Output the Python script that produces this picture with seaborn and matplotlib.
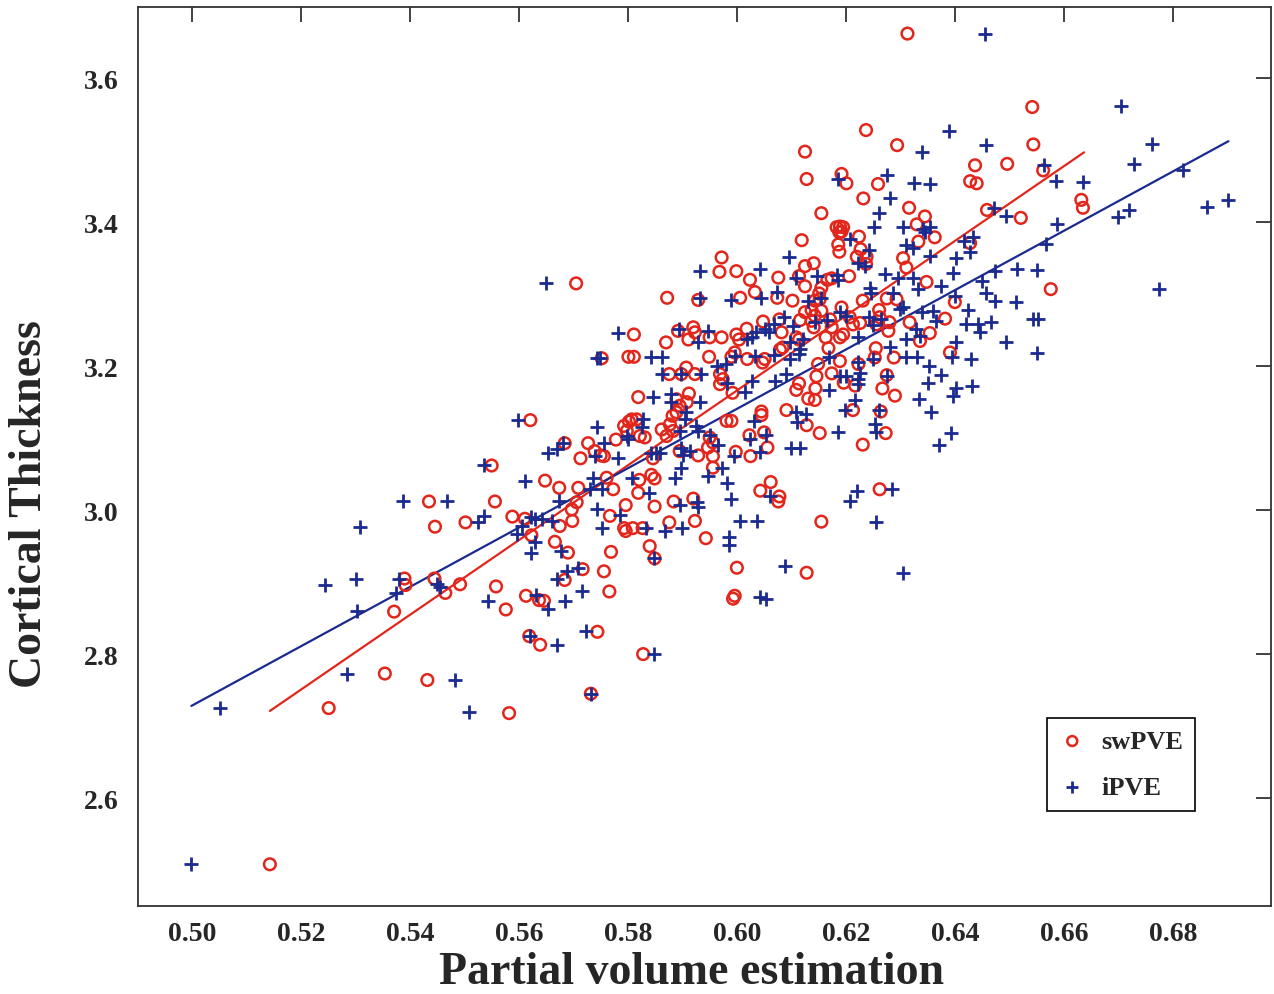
import matplotlib
matplotlib.use("Agg")
import matplotlib.pyplot as plt
import seaborn as sns

# swPVE points (partial volume estimation vs cortical thickness)
swpve_x = [
    0.5435, 0.5446, 0.5502, 0.5390, 0.5392, 0.5445, 0.5465, 0.5492, 0.5371, 0.5354,
    0.5432, 0.5251, 0.5143, 0.5619, 0.5639, 0.5744, 0.5828, 0.5732, 0.5582, 0.5621,
    0.5550, 0.5556, 0.5588, 0.5611, 0.5623, 0.5648, 0.5674, 0.5675, 0.5666, 0.5690,
    0.5697, 0.5698, 0.5706, 0.5709, 0.5684, 0.5727, 0.5713, 0.5739, 0.5750, 0.5756,
    0.5761, 0.5773, 0.5778, 0.5767, 0.5796, 0.5793, 0.5796, 0.5809, 0.5827, 0.5769,
    0.5717, 0.5684, 0.5756, 0.5766, 0.5558, 0.5613, 0.5637, 0.5646, 0.5576, 0.5819,
    0.5819, 0.5821, 0.5843, 0.5849, 0.5849, 0.5840, 0.5849, 0.5876, 0.5884, 0.5920,
    0.5923, 0.5943, 0.5846, 0.5822, 0.5807, 0.5802, 0.5816, 0.5793, 0.5798, 0.5831,
    0.5862, 0.5871, 0.5883, 0.5877, 0.5889, 0.5882, 0.5895, 0.5912, 0.5908, 0.5876,
    0.5898, 0.5923, 0.5889, 0.5969, 0.5974, 0.5969, 0.5992, 0.5981, 0.5990, 0.5950,
    0.5956, 0.5947, 0.5956, 0.5929, 0.5895, 0.5956, 0.5998, 0.5993, 0.5996, 0.6000,
    0.5705, 0.5972, 0.5968, 0.5999, 0.5872, 0.5929, 0.6006, 0.5811, 0.5870, 0.5892,
    0.5920, 0.5923, 0.5911, 0.5950, 0.5972, 0.5999, 0.6004, 0.5949, 0.5752, 0.5801,
    0.5811, 0.5907, 0.5990, 0.5996, 0.6237, 0.6294, 0.6125, 0.6128, 0.6192, 0.6201,
    0.6259, 0.6232, 0.6437, 0.6428, 0.6440, 0.6155, 0.6316, 0.6345, 0.6330, 0.6459,
    0.6183, 0.6189, 0.6195, 0.6192, 0.6188, 0.6119, 0.6224, 0.6363, 0.6428, 0.6186,
    0.6188, 0.6333, 0.6227, 0.6238, 0.6220, 0.6305, 0.6311, 0.6237, 0.6125, 0.6141,
    0.6076, 0.6024, 0.6114, 0.6125, 0.6166, 0.6174, 0.6206, 0.6155, 0.6151, 0.6033,
    0.6074, 0.6102, 0.6143, 0.6152, 0.6125, 0.6137, 0.6155, 0.6143, 0.6192, 0.6231,
    0.6261, 0.6262, 0.6275, 0.6293, 0.6348, 0.6400, 0.6382, 0.6354, 0.6317, 0.6280,
    0.6278, 0.6256, 0.6226, 0.6207, 0.6213, 0.6195, 0.6189, 0.6171, 0.6174, 0.6137,
    0.6141, 0.6116, 0.6082, 0.6078, 0.6048, 0.6018, 0.6163, 0.6168, 0.6109, 0.6114,
    0.6079, 0.6084, 0.6051, 0.6047, 0.6019, 0.6149, 0.6189, 0.6255, 0.6336, 0.6391,
    0.6288, 0.6253, 0.6223, 0.6146, 0.6174, 0.6196, 0.6114, 0.6109, 0.6144, 0.6131,
    0.6143, 0.6091, 0.6045, 0.6045, 0.6128, 0.6152, 0.6050, 0.6023, 0.6056, 0.6025,
    0.6213, 0.6267, 0.6290, 0.6264, 0.6273, 0.6231, 0.6275, 0.6217, 0.6062, 0.6043,
    0.6078, 0.6076, 0.6155, 0.6262, 0.6128, 0.6542, 0.6544, 0.6496, 0.6562, 0.6632,
    0.6635, 0.6521, 0.6576, 0.6313,
]
swpve_y = [
    3.012, 2.977, 2.983, 2.905, 2.896, 2.905, 2.885, 2.897, 2.859, 2.773,
    2.764, 2.725, 2.508, 2.825, 2.813, 2.831, 2.800, 2.745, 2.718, 3.125,
    3.062, 3.012, 2.991, 2.988, 2.965, 3.041, 3.031, 2.978, 2.956, 2.941,
    3.001, 2.985, 3.011, 3.031, 3.093, 3.093, 3.072, 3.082, 3.076, 3.075,
    3.045, 3.029, 3.098, 2.992, 3.007, 2.975, 2.971, 2.975, 2.975, 2.942,
    2.918, 2.903, 2.915, 2.887, 2.894, 2.881, 2.875, 2.874, 2.862, 3.157,
    3.024, 3.042, 3.049, 3.044, 3.005, 2.950, 2.933, 2.983, 3.012, 3.016,
    2.985, 2.961, 3.072, 3.103, 3.126, 3.123, 3.126, 3.117, 3.110, 3.101,
    3.112, 3.103, 3.110, 3.119, 3.136, 3.131, 3.145, 3.162, 3.150, 3.189,
    3.189, 3.189, 3.154, 3.189, 3.182, 3.175, 3.163, 3.124, 3.124, 3.101,
    3.094, 3.087, 3.075, 3.076, 3.082, 3.059, 3.081, 2.877, 2.881, 2.920,
    3.315, 3.351, 3.331, 3.332, 3.295, 3.292, 3.295, 3.244, 3.233, 3.249,
    3.254, 3.247, 3.237, 3.240, 3.240, 3.244, 3.237, 3.213, 3.211, 3.213,
    3.213, 3.198, 3.213, 3.219, 3.528, 3.507, 3.498, 3.460, 3.467, 3.454,
    3.453, 3.433, 3.479, 3.457, 3.454, 3.4125, 3.420, 3.408, 3.397, 3.417,
    3.393, 3.394, 3.393, 3.387, 3.386, 3.375, 3.380, 3.379, 3.371, 3.369,
    3.359, 3.373, 3.3625, 3.352, 3.352, 3.350, 3.337, 3.342, 3.339, 3.343,
    3.323, 3.320, 3.325, 3.311, 3.320, 3.322, 3.325, 3.309, 3.301, 3.303,
    3.295, 3.291, 3.291, 3.293, 3.275, 3.278, 3.277, 3.270, 3.2815, 3.291,
    3.278, 3.268, 3.294, 3.293, 3.317, 3.289, 3.266, 3.246, 3.261, 3.261,
    3.249, 3.258, 3.260, 3.268, 3.258, 3.244, 3.240, 3.265, 3.254, 3.263,
    3.254, 3.264, 3.247, 3.265, 3.262, 3.252, 3.240, 3.225, 3.240, 3.237,
    3.223, 3.226, 3.210, 3.205, 3.210, 3.203, 3.207, 3.225, 3.235, 3.219,
    3.212, 3.212, 3.203, 3.186, 3.190, 3.177, 3.176, 3.167, 3.169, 3.155,
    3.153, 3.139, 3.137, 3.132, 3.118, 3.107, 3.108, 3.104, 3.087, 3.075,
    3.139, 3.169, 3.159, 3.137, 3.107, 3.091, 3.1875, 3.173, 3.039, 3.027,
    3.019, 3.012, 2.984, 3.029, 2.913, 3.560, 3.508, 3.481, 3.472, 3.431,
    3.420, 3.406, 3.307, 3.662,
]

# iPVE points
ipve_x = [
    0.5388, 0.5468, 0.5308, 0.5525, 0.5245, 0.5301, 0.5380, 0.5375, 0.5450, 0.5456,
    0.5303, 0.5285, 0.5482, 0.5508, 0.5052, 0.4999, 0.5621, 0.5670, 0.5723, 0.5848,
    0.5732, 0.5599, 0.5536, 0.5536, 0.5611, 0.5597, 0.5605, 0.5623, 0.5629, 0.5642,
    0.5660, 0.5629, 0.5623, 0.5678, 0.5689, 0.5709, 0.5669, 0.5715, 0.5684, 0.5632,
    0.5654, 0.5544, 0.5674, 0.5654, 0.5669, 0.5681, 0.5743, 0.5756, 0.5739, 0.5782,
    0.5736, 0.5730, 0.5752, 0.5744, 0.5753, 0.5785, 0.5807, 0.5839, 0.5834, 0.5868,
    0.5899, 0.5895, 0.5926, 0.5929, 0.5847, 0.5886, 0.5947, 0.5981, 0.5990, 0.5986,
    0.5986, 0.5973, 0.5994, 0.5798, 0.5801, 0.5828, 0.5825, 0.5842, 0.5851, 0.5859,
    0.5880, 0.5880, 0.5846, 0.5862, 0.5898, 0.5935, 0.5907, 0.5905, 0.5895, 0.5925,
    0.5929, 0.5932, 0.5898, 0.5901, 0.5914, 0.5898, 0.5966, 0.5950, 0.5981, 0.6006,
    0.5650, 0.5932, 0.5932, 0.5990, 0.5782, 0.5894, 0.5947, 0.5929, 0.5743, 0.5749,
    0.5843, 0.5863, 0.5963, 0.5980, 0.5996, 0.6390, 0.6457, 0.6339, 0.6186, 0.6276,
    0.6325, 0.6354, 0.6281, 0.6261, 0.6472, 0.6251, 0.6305, 0.6354, 0.6345, 0.6341,
    0.6207, 0.6416, 0.6434, 0.6311, 0.6324, 0.6428, 0.6096, 0.6243, 0.6355, 0.6223,
    0.6235, 0.6402, 0.6397, 0.6042, 0.6109, 0.6147, 0.6183, 0.6186, 0.6272, 0.6296,
    0.6324, 0.6375, 0.6449, 0.6473, 0.6458, 0.6473, 0.6400, 0.6333, 0.6073, 0.6045,
    0.6131, 0.6155, 0.6244, 0.6247, 0.6287, 0.6300, 0.6305, 0.6339, 0.6360, 0.6424,
    0.6467, 0.6421, 0.6443, 0.6446, 0.6328, 0.6336, 0.6311, 0.6402, 0.6366, 0.6265,
    0.6243, 0.6189, 0.6201, 0.6166, 0.6223, 0.6250, 0.6281, 0.6086, 0.6103, 0.6143,
    0.6122, 0.6068, 0.6035, 0.6027, 0.6019, 0.6051, 0.6059, 0.6097, 0.6116, 0.6114,
    0.6068, 0.6033, 0.6097, 0.6169, 0.6223, 0.6250, 0.6311, 0.6330, 0.6353, 0.6394,
    0.6429, 0.6027, 0.6015, 0.6070, 0.6091, 0.6169, 0.6189, 0.6201, 0.6223, 0.6223,
    0.6226, 0.6217, 0.6198, 0.6108, 0.6127, 0.6111, 0.6031, 0.6024, 0.6054, 0.6043,
    0.6100, 0.6116, 0.6186, 0.6261, 0.6253, 0.6256, 0.6275, 0.6351, 0.6374, 0.6402,
    0.6397, 0.6431, 0.6334, 0.6356, 0.6392, 0.6371, 0.6220, 0.6207, 0.6284, 0.6255,
    0.6061, 0.6036, 0.6089, 0.6305, 0.6042, 0.6054, 0.6704, 0.6761, 0.6729, 0.6563,
    0.6818, 0.6585, 0.6635, 0.6494, 0.6588, 0.6568, 0.6700, 0.6720, 0.6863, 0.6902,
    0.6514, 0.6551, 0.6775, 0.6512, 0.6544, 0.6553, 0.6494, 0.6551, 0.6455,
]
ipve_y = [
    3.012, 3.012, 2.977, 2.983, 2.896, 2.904, 2.904, 2.885, 2.897, 2.893,
    2.860, 2.773, 2.764, 2.719, 2.725, 2.508, 2.825, 2.813, 2.832, 2.800,
    2.745, 3.125, 3.062, 2.992, 3.041, 2.967, 2.978, 2.990, 2.988, 2.988,
    2.985, 2.956, 2.940, 2.943, 2.916, 2.919, 2.905, 2.888, 2.874, 2.882,
    2.862, 2.874, 3.012, 3.080, 3.085, 3.093, 3.115, 3.093, 3.075, 3.073,
    3.045, 3.030, 3.029, 3.002, 2.975, 2.993, 3.044, 3.024, 2.975, 2.971,
    2.975, 3.007, 3.011, 3.005, 2.933, 3.045, 3.047, 3.038, 3.016, 2.963,
    2.951, 3.059, 3.075, 3.103, 3.099, 3.126, 3.115, 3.079, 3.079, 3.079,
    3.161, 3.150, 3.157, 3.189, 3.189, 3.189, 3.136, 3.126, 3.110, 3.117,
    3.110, 3.150, 3.087, 3.076, 3.082, 3.059, 3.090, 3.104, 3.177, 2.985,
    3.315, 3.332, 3.295, 3.292, 3.246, 3.252, 3.249, 3.233, 3.211, 3.211,
    3.213, 3.213, 3.200, 3.203, 3.214, 3.527, 3.507, 3.498, 3.460, 3.465,
    3.455, 3.453, 3.434, 3.4125, 3.420, 3.394, 3.393, 3.393, 3.387, 3.390,
    3.376, 3.374, 3.379, 3.368, 3.3635, 3.358, 3.352, 3.3615, 3.353, 3.343,
    3.339, 3.350, 3.330, 3.335, 3.322, 3.325, 3.326, 3.320, 3.328, 3.322,
    3.322, 3.311, 3.318, 3.332, 3.302, 3.291, 3.298, 3.307, 3.303, 3.295,
    3.291, 3.295, 3.309, 3.302, 3.302, 3.279, 3.2815, 3.275, 3.277, 3.278,
    3.262, 3.258, 3.258, 3.247, 3.251, 3.242, 3.2375, 3.234, 3.263, 3.265,
    3.268, 3.275, 3.270, 3.264, 3.240, 3.257, 3.226, 3.268, 3.256, 3.261,
    3.2375, 3.258, 3.247, 3.241, 3.2375, 3.251, 3.247, 3.234, 3.224, 3.217,
    3.215, 3.214, 3.210, 3.213, 3.206, 3.210, 3.213, 3.213, 3.200, 3.213,
    3.210, 3.180, 3.164, 3.180, 3.189, 3.167, 3.186, 3.187, 3.182, 3.175,
    3.191, 3.153, 3.139, 3.137, 3.133, 3.123, 3.124, 3.099, 3.104, 3.081,
    3.087, 3.087, 3.108, 3.139, 3.119, 3.108, 3.186, 3.177, 3.1875, 3.170,
    3.159, 3.172, 3.155, 3.137, 3.107, 3.091, 3.027, 3.012, 3.029, 2.984,
    3.019, 2.985, 2.922, 2.913, 2.880, 2.877, 3.561, 3.509, 3.481, 3.479,
    3.473, 3.457, 3.456, 3.408, 3.398, 3.370, 3.407, 3.417, 3.421, 3.431,
    3.335, 3.334, 3.307, 3.289, 3.266, 3.266, 3.233, 3.218, 3.662,
]

# least-squares fit lines as drawn in the figure (end points)
swpve_fit_x = [0.5143, 0.6637]
swpve_fit_y = [2.721, 3.497]
ipve_fit_x = [0.4999, 0.6902]
ipve_fit_y = [2.728, 3.5125]

x_ticks = [0.50, 0.52, 0.54, 0.56, 0.58, 0.60, 0.62, 0.64, 0.66, 0.68]
y_ticks = [2.6, 2.8, 3.0, 3.2, 3.4, 3.6]

RED = "#e3261b"
BLUE = "#1b2a8e"

sns.set_theme(style="white")
plt.rcParams["font.family"] = ["Liberation Serif", "DejaVu Serif"]
plt.rcParams["font.weight"] = "bold"

fig = plt.figure(figsize=(12.74, 9.95), dpi=100)
ax = fig.add_axes([0.1083, 0.0884, 0.8893, 0.9036])

sns.scatterplot(x=swpve_x, y=swpve_y, marker="o", s=70, facecolor="none",
                edgecolor=RED, linewidth=1.8, label="swPVE", ax=ax, zorder=3)
sns.scatterplot(x=ipve_x, y=ipve_y, marker="+", s=110, color=BLUE,
                linewidth=2.0, label="iPVE", ax=ax, zorder=3)
sns.lineplot(x=swpve_fit_x, y=swpve_fit_y, color=RED, linewidth=1.6, ax=ax, legend=False, zorder=2)
sns.lineplot(x=ipve_fit_x, y=ipve_fit_y, color=BLUE, linewidth=1.6, ax=ax, legend=False, zorder=2)

ax.set_xlim(0.4901, 0.698)
ax.set_ylim(2.45, 3.699)
ax.set_xticks(x_ticks)
ax.set_xticklabels([f"{v:.2f}" for v in x_ticks])
ax.set_yticks(y_ticks)
ax.set_yticklabels([f"{v:.1f}" for v in y_ticks])

for side in ["left", "right", "top", "bottom"]:
    ax.spines[side].set_visible(True)
    ax.spines[side].set_color("#333333")
    ax.spines[side].set_linewidth(1.3)

ax.tick_params(axis="both", which="major", direction="in", length=11, width=1.3,
               color="#333333", top=True, right=True, labelsize=20)
ax.tick_params(axis="x", pad=11)
ax.tick_params(axis="y", pad=14)
for lbl in ax.get_xticklabels() + ax.get_yticklabels():
    lbl.set_fontweight("bold")

ax.set_xlabel("Partial volume estimation", fontsize=33, fontweight="bold")
ax.xaxis.label.set_verticalalignment("center")
ax.xaxis.set_label_coords(0.489, -0.073)
ax.set_ylabel("Cortical Thickness", fontsize=33, fontweight="bold")
ax.yaxis.label.set_verticalalignment("center")
ax.yaxis.set_label_coords(-0.095, 0.448)

leg = ax.legend(loc="lower right", bbox_to_anchor=(0.933, 0.106), borderaxespad=0,
                frameon=True, fancybox=False, edgecolor="black", framealpha=1,
                fontsize=19, handlelength=1.0, handletextpad=0.6,
                borderpad=0.45, labelspacing=0.85, markerscale=0.85)
leg.get_frame().set_linewidth(1.2)
for t in leg.get_texts():
    t.set_fontweight("bold")

fig.savefig("out.png", dpi=100)
